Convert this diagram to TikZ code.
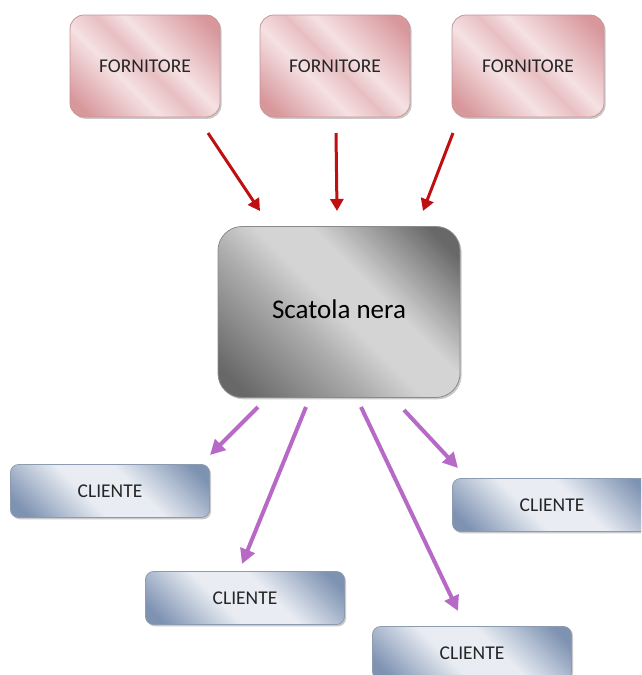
\documentclass[tikz,border=0pt]{standalone}
\usepackage{fontspec}
\setmainfont{Carlito}
\usetikzlibrary{arrows.meta,shadows}

% palettes for the three kinds of boxes
\definecolor{pkD}{HTML}{D8979B}
\definecolor{pkM}{HTML}{E8BFC2}
\definecolor{pkL}{HTML}{F5E1E3}
\definecolor{pkB}{HTML}{C99498}
\definecolor{gyD}{HTML}{686868}
\definecolor{gyM}{HTML}{ABABAB}
\definecolor{gyL}{HTML}{D4D4D4}
\definecolor{gyB}{HTML}{8A8A8A}
\definecolor{blD}{HTML}{7E92B2}
\definecolor{blM}{HTML}{B8C3D5}
\definecolor{blL}{HTML}{E9EDF3}
\definecolor{blB}{HTML}{8D9BB1}
\definecolor{supplyred}{HTML}{BF0F10}
\definecolor{clientlila}{HTML}{B66AC6}

% diagonal "brushed" gradients: dark corners, broad light band across the middle
\pgfdeclarehorizontalshading{pinkmetal}{100bp}{color(0bp)=(pkD); color(20bp)=(pkD); color(40bp)=(pkL); color(50bp)=(pkM); color(58bp)=(pkL); color(80bp)=(pkD); color(100bp)=(pkD)}
\pgfdeclarehorizontalshading{graymetal}{100bp}{color(0bp)=(gyD); color(20bp)=(gyD); color(40bp)=(gyM); color(50bp)=(gyL); color(60bp)=(gyL); color(80bp)=(gyD); color(100bp)=(gyD)}
\pgfdeclarehorizontalshading{bluemetal}{100bp}{color(0bp)=(blD); color(20bp)=(blD); color(42bp)=(blL); color(58bp)=(blL); color(80bp)=(blD); color(100bp)=(blD)}

\tikzset{
  boxshadow/.style={drop shadow={opacity=0.35,shadow xshift=1.6pt,shadow yshift=-1.8pt,fill=black!60}},
  supplier/.style={draw=pkB,line width=0.8pt,rounded corners=14pt,shading=pinkmetal,shading angle=45,
    minimum width=150pt,minimum height=102pt,boxshadow,font=\fontsize{19.5}{23}\selectfont,text=black!85},
  blackbox/.style={draw=gyB,line width=0.8pt,rounded corners=24pt,shading=graymetal,shading angle=45,
    minimum width=242pt,minimum height=171pt,boxshadow,font=\fontsize{27}{31}\selectfont},
  customer/.style={draw=blB,line width=0.8pt,rounded corners=8pt,shading=bluemetal,shading angle=45,
    minimum width=199pt,minimum height=53pt,boxshadow,font=\fontsize{19.5}{23}\selectfont,text=black!85},
  inflow/.style={draw=supplyred,line width=3pt,-{Triangle[length=12pt,width=13pt]}},
  outflow/.style={draw=clientlila,line width=4pt,-{Triangle[length=15pt,width=15pt]}}
}

\begin{document}
\begin{tikzpicture}[x=1pt,y=-1pt]
\useasboundingbox (0,0) rectangle (641,675);
\clip (0,0) rectangle (641,675);

% suppliers
\node[supplier] (f1) at (145,66) {FORNITORE};
\node[supplier] (f2) at (335,66) {FORNITORE};
\node[supplier,minimum width=152pt] (f3) at (528,66) {FORNITORE};

% the black box
\node[blackbox] (sn) at (339,312) {\raisebox{6pt}{Scatola nera}};

% customers
\node[customer] (c1) at (110,491) {CLIENTE};
\node[customer] (c2) at (245,598) {CLIENTE};
\node[customer] (c3) at (552,505) {CLIENTE};
\node[customer] (c4) at (472,653) {CLIENTE};

% arrow ends
\coordinate (r1a) at (208,133); \coordinate (r1b) at (260,211);
\coordinate (r2a) at (336,133); \coordinate (r2b) at (337,211);
\coordinate (r3a) at (453,133); \coordinate (r3b) at (423,211);
\coordinate (p1a) at (258,407); \coordinate (p1b) at (210,455);
\coordinate (p2a) at (306,407); \coordinate (p2b) at (242,564);
\coordinate (p3a) at (361,407); \coordinate (p3b) at (458,611);
\coordinate (p4a) at (404,410); \coordinate (p4b) at (458,468);

% goods flowing in
\draw[inflow] (r1a) -- (r1b);
\draw[inflow] (r2a) -- (r2b);
\draw[inflow] (r3a) -- (r3b);

% goods flowing out
\draw[outflow] (p1a) -- (p1b);
\draw[outflow] (p2a) -- (p2b);
\draw[outflow] (p3a) -- (p3b);
\draw[outflow] (p4a) -- (p4b);
\end{tikzpicture}
\end{document}
